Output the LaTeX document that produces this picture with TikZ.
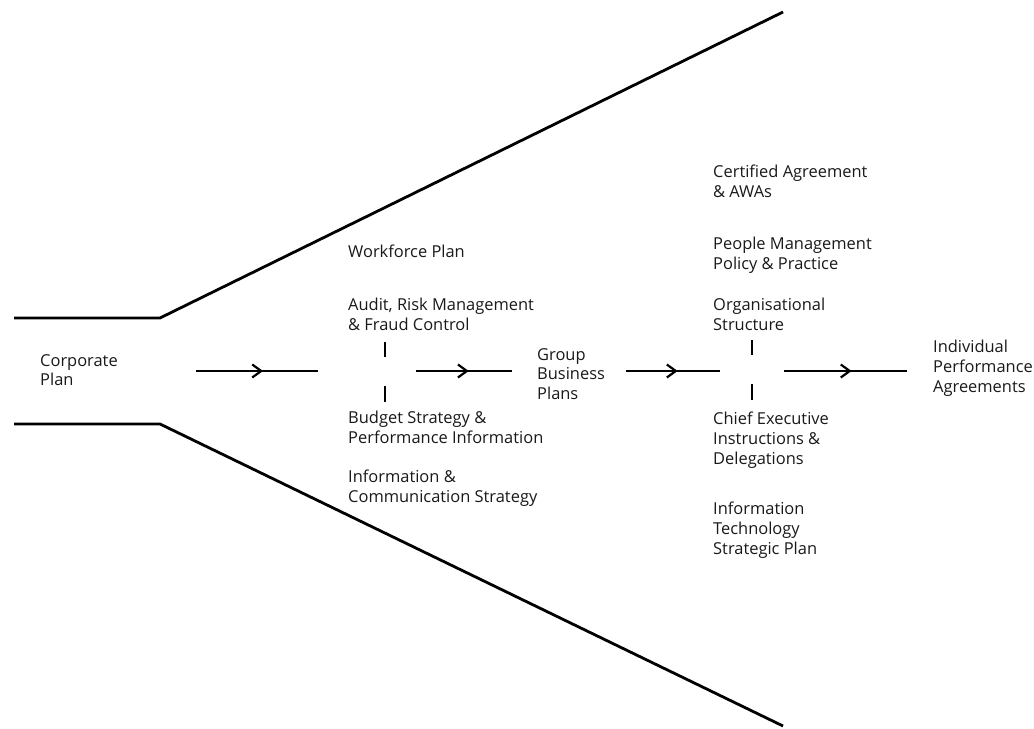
\documentclass[tikz,border=0pt]{standalone}
\usepackage{fontspec}
\setmainfont{Open Sans}
\usetikzlibrary{arrows.meta,decorations.markings}
\begin{document}
\begin{tikzpicture}[x=1bp,y=-1bp,
  funnel/.style={line width=2.8bp, line join=miter},
  flow/.style={line width=2.4bp, postaction={decorate},
    decoration={markings, mark=at position 0.55 with {\arrow{Straight Barb[length=9bp,width=13bp,line width=2.2bp]}}}},
  tick/.style={line width=2.4bp},
  lbl/.style={anchor=north west, align=left, font=\fontsize{16.5}{19.8}\selectfont, text=black!90, inner sep=0pt}]
\useasboundingbox (0,0) rectangle (1034,729);
% funnel
\draw[funnel] (14,318) -- (160,318) -- (783,12);
\draw[funnel] (14,424) -- (160,424) -- (783,726);
% labels
\node[lbl] (corp) at (40,354) {Corporate\\Plan};
\node[lbl] (wf) at (348,245) {Workforce Plan};
\node[lbl] (audit) at (348,298) {Audit, Risk Management\\\& Fraud Control};
\node[lbl] (budget) at (348,411) {Budget Strategy \&\\Performance Information};
\node[lbl] (icomm) at (348,470) {Information \&\\Communication Strategy};
\node[lbl] (group) at (537,348) {Group\\Business\\Plans};
\node[lbl] (cert) at (713,165) {Certified Agreement\\\& AWAs};
\node[lbl] (people) at (713,237) {People Management\\Policy \& Practice};
\node[lbl] (org) at (713,298) {Organisational\\Structure};
\node[lbl] (chief) at (713,412) {Chief Executive\\Instructions \&\\Delegations};
\node[lbl] (itsp) at (713,502) {Information\\Technology\\Strategic Plan};
\node[lbl] (indiv) at (933,340) {Individual\\Performance\\Agreements};
% hubs and connector ends
\coordinate (a1s) at (196,371); \coordinate (a1e) at (318,371);
\coordinate (a2s) at (416,371); \coordinate (a2e) at (512,371);
\coordinate (a3s) at (626,371); \coordinate (a3e) at (720,371);
\coordinate (a4s) at (784,371); \coordinate (a4e) at (907,371);
\coordinate (h1t) at (385,342); \coordinate (h1u) at (385,357);
\coordinate (h1v) at (385,386); \coordinate (h1w) at (385,402);
\coordinate (h2t) at (752,340); \coordinate (h2u) at (752,355);
\coordinate (h2v) at (752,384); \coordinate (h2w) at (752,400);
\draw[flow] (a1s) -- (a1e);
\draw[flow] (a2s) -- (a2e);
\draw[flow] (a3s) -- (a3e);
\draw[flow] (a4s) -- (a4e);
\draw[tick] (h1t) -- (h1u);
\draw[tick] (h1v) -- (h1w);
\draw[tick] (h2t) -- (h2u);
\draw[tick] (h2v) -- (h2w);
\end{tikzpicture}
\end{document}
